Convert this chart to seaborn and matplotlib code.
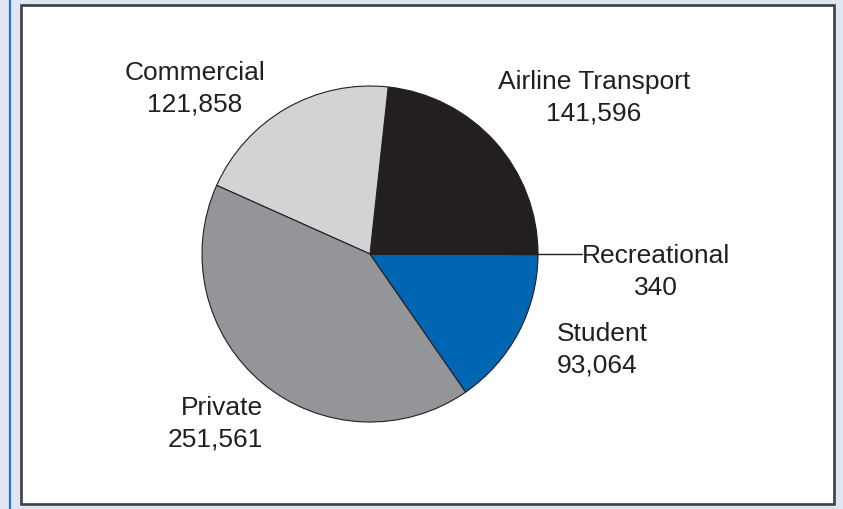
import matplotlib
matplotlib.use('Agg')
import matplotlib.pyplot as plt
import seaborn as sns
from matplotlib.patches import Rectangle

# pilot certificates by type
categories = ['Airline Transport', 'Commercial', 'Private', 'Student', 'Recreational']
counts = [141596, 121858, 251561, 93064, 340]
count_labels = ['141,596', '121,858', '251,561', '93,064', '340']
slice_colors = ['#231f20', '#d1d3d4', '#939598', '#0066b3', '#231f20']

sns.set_theme(style='white')
plt.rcParams['font.family'] = ['Liberation Sans', 'DejaVu Sans']

W, H = 843, 510
fig = plt.figure(figsize=(W / 100, H / 100), dpi=100)
fig.patch.set_facecolor('#dfe5f3')
ax = fig.add_axes([0, 0, 1, 1])

def py(y):
    # image pixel row -> data y
    return H - y

# left accent line and white panel
ax.plot([9.5, 9.5], [0, H], color='#2f72c0', lw=1.6, zorder=0, solid_capstyle='butt')
ax.add_patch(Rectangle((21, py(505)), 813, 499, facecolor='white',
                       edgecolor='#3f3f42', lw=1.9, zorder=0))

cx, cy, r = 370, py(255), 168
wedges, _ = ax.pie(counts, colors=sns.color_palette(slice_colors), startangle=0,
                   counterclock=True, center=(cx, cy), radius=r,
                   wedgeprops=dict(edgecolor='#231f20', linewidth=0.8))

ax.set_xlim(0, W)
ax.set_ylim(0, H)
ax.set_aspect('equal')
ax.axis('off')

fs = 19
tc = '#231f20'
# label placement: (x, y, ha)
places = [(594, 98, 'center'), (195, 89, 'center'), (263, 424, 'right'),
          (557, 350, 'left'), (656, 272, 'center')]
for cat, lab, (x, y, ha) in zip(categories, count_labels, places):
    ax.text(x, py(y), f'{cat}\n{lab}', ha=ha, va='center', fontsize=fs,
            color=tc, linespacing=1.42, multialignment=ha)

# leader for the tiny slice
ax.plot([cx + r, 582], [cy, cy], color=tc, lw=1.0)

fig.savefig('out.png', dpi=100, facecolor=fig.get_facecolor())
